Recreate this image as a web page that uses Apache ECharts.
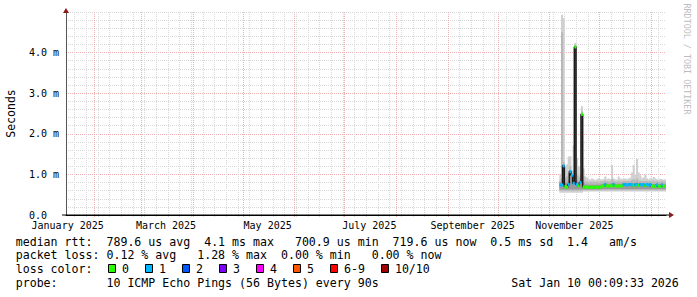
<!DOCTYPE html>
<html><head><meta charset="utf-8">
<script src="https://cdn.jsdelivr.net/npm/echarts@6/dist/echarts.min.js"></script>
<style>html,body{margin:0;padding:0;background:#fff}#c{width:697px;height:297px}</style>
</head><body><div id="c"></div>
<script>
const DAY = 86400000;
const rangeStart = Date.UTC(2025, 0, 15, 0, 9, 33);
const rangeEnd = Date.UTC(2026, 0, 10, 0, 9, 33);
const firstDataDay = Date.UTC(2025, 10, 7);

// x axis labels (centred mid-month, like rrdtool)
const monthLabelDates = [Date.UTC(2025,0,16), Date.UTC(2025,2,16), Date.UTC(2025,4,16), Date.UTC(2025,6,16), Date.UTC(2025,8,16), Date.UTC(2025,10,16)];
const monthLabelTexts = ['January 2025', 'March 2025', 'May 2025', 'July 2025', 'September 2025', 'November 2025'];
// y axis tick labels (ms)
const yTickValues = [0, 1, 2, 3, 4];
const yTickLabels = ['0.0', '1.0 m', '2.0 m', '3.0 m', '4.0 m'];
const yMax = 5;

// daily values, Nov 7 2025 .. Jan 9 2026 (ms)
const medianMs = [0.74,0.74,1.21,0.70,0.68,0.75,1.07,0.98,0.78,4.14,0.75,0.72,0.80,2.48,
  0.69,0.68,0.69,0.68,0.69,0.68,0.69,0.68,0.69,0.68,0.69,0.71,0.72,0.75,0.72,0.71,0.72,0.72,
  0.75,0.72,0.71,0.72,0.71,0.72,0.75,0.75,0.74,0.75,0.75,0.74,0.72,0.75,0.75,0.73,0.75,0.74,
  0.75,0.72,0.75,0.74,0.75,0.71,0.71,0.70,0.74,0.71,0.70,0.74,0.71,0.71];
const lossCount = [1,1,1,0,0,1,1,1,1,0,1,0,1,0,
  0,0,0,0,0,0,0,0,0,0,0,0,0,1,0,0,0,0,
  1,0,0,0,0,0,1,1,1,1,1,1,0,1,1,0,1,1,
  1,0,1,1,1,0,0,0,1,0,0,1,0,0];
const smokeMin = [0.55,0.55,0.55,0.55,0.55,0.55,0.55,0.55,0.55,0.55,0.55,0.55,0.55,0.55,
  0.58,0.58,0.58,0.58,0.58,0.58,0.58,0.58,0.58,0.58,0.58,0.58,0.58,0.58,0.58,0.58,0.58,0.58,
  0.58,0.58,0.58,0.58,0.58,0.58,0.58,0.58,0.58,0.58,0.58,0.58,0.58,0.58,0.58,0.58,0.58,0.58,
  0.58,0.58,0.58,0.58,0.58,0.58,0.58,0.58,0.58,0.58,0.58,0.58,0.58,0.58];
const smokeMax = [1.00,4.93,4.85,1.20,1.25,1.44,1.45,1.10,1.72,4.24,1.40,1.20,1.00,2.68,
  1.15,0.95,0.92,0.88,0.87,0.90,0.88,0.86,0.88,0.90,0.88,0.87,0.89,0.95,0.88,0.90,0.88,1.23,
  0.90,0.88,0.87,0.95,0.90,0.88,0.89,0.90,0.88,0.90,0.92,1.05,1.23,1.00,1.38,1.05,0.98,0.90,
  0.93,1.00,0.90,0.88,0.90,0.88,0.94,0.90,0.88,0.87,0.89,0.88,0.87,0.88];
const midLo = [0.60,0.60,0.60,0.60,0.60,0.60,0.60,0.60,0.60,0.60,0.60,0.60,0.60,0.60,
  0.61,0.61,0.61,0.61,0.61,0.61,0.61,0.61,0.61,0.61,0.61,0.61,0.61,0.61,0.61,0.61,0.61,0.61,
  0.61,0.61,0.61,0.61,0.61,0.61,0.61,0.61,0.61,0.61,0.61,0.61,0.61,0.61,0.61,0.61,0.61,0.61,
  0.61,0.61,0.61,0.61,0.61,0.61,0.61,0.61,0.61,0.61,0.61,0.61,0.61,0.61];
const midHi = [0.85,4.50,1.30,0.90,0.95,1.00,1.20,1.00,1.10,4.18,1.00,0.95,0.90,2.55,
  0.95,0.82,0.82,0.81,0.82,0.81,0.82,0.81,0.82,0.81,0.82,0.82,0.83,0.85,0.82,0.82,0.82,0.88,
  0.84,0.82,0.82,0.84,0.82,0.82,0.84,0.84,0.83,0.84,0.84,0.86,0.88,0.85,0.90,0.85,0.84,0.83,
  0.84,0.84,0.84,0.83,0.84,0.82,0.84,0.82,0.83,0.82,0.82,0.83,0.82,0.82];
const innerLo = [0.63,0.63,0.63,0.63,0.63,0.63,0.63,0.63,0.63,0.63,0.63,0.63,0.63,0.63,
  0.63,0.63,0.63,0.63,0.63,0.63,0.63,0.63,0.63,0.63,0.63,0.64,0.64,0.64,0.64,0.64,0.64,0.64,
  0.64,0.64,0.64,0.64,0.64,0.64,0.64,0.64,0.64,0.64,0.64,0.64,0.64,0.64,0.64,0.64,0.64,0.64,
  0.64,0.64,0.64,0.64,0.64,0.64,0.64,0.64,0.64,0.64,0.64,0.64,0.64,0.64];
const innerHi = [0.80,0.90,1.21,0.80,0.80,0.85,1.07,0.98,0.85,4.14,0.85,0.80,0.85,2.48,
  0.80,0.75,0.75,0.74,0.75,0.74,0.75,0.74,0.75,0.74,0.75,0.76,0.77,0.79,0.77,0.76,0.77,0.78,
  0.79,0.77,0.76,0.77,0.76,0.77,0.79,0.79,0.78,0.79,0.79,0.79,0.78,0.79,0.80,0.78,0.79,0.78,
  0.79,0.77,0.79,0.78,0.79,0.76,0.76,0.75,0.78,0.76,0.75,0.78,0.76,0.76];

const lossLabels = ['0', '1', '2', '3', '4', '5', '6-9', '10/10'];
const lossColors = ['#26ff00', '#00b8ff', '#0059ff', '#7e00ff', '#ff00ff', '#ff5500', '#ff0000', '#a00000'];

const legendRtt = [[0,'median rtt:'],[13,'789.6 us avg'],[27,'4.1 ms max'],[40,'700.9 us min'],[54,'719.6 us now'],[68,'0.5 ms sd'],[79,'1.4'],[85,'am/s']];
const legendLoss = [[0,'packet loss:'],[13,'0.12 % avg'],[26,'1.28 % max'],[38,'0.00 % min'],[51,'0.00 % now']];
const legendProbe = [[0,'probe:'],[13,'10 ICMP Echo Pings (56 Bytes) every 90s'],[71,'Sat Jan 10 00:09:33 2026']];

const MONO = "'DejaVu Sans Mono', monospace";
const GRID_MINOR = '#d8d8d8';
const GRID_MAJOR = '#eeb0b0';

function lossIndex(n) { return n <= 5 ? n : (n < 10 ? 6 : 7); }
function dayStart(i) { return firstDataDay + i * DAY; }

// grid helper dates (calendar, not data)
const monthStarts = [];
for (let m = 1; m <= 12; m++) monthStarts.push(Date.UTC(2025, m, 1));
const weekStarts = [];
for (let t = Date.UTC(2025, 0, 20); t < rangeEnd; t += 7 * DAY) weekStarts.push(t);

function vLines(dates, color, below, z) {
  return {
    type: 'custom', z: z, clip: false, silent: true,
    data: dates.map(t => [t, 0]),
    renderItem(params, api) {
      const top = api.coord([api.value(0), yMax]);
      const bot = api.coord([api.value(0), 0]);
      const x = Math.round(top[0]) + 0.5;
      return { type: 'line', shape: { x1: x, y1: top[1], x2: x, y2: bot[1] + below },
        style: { stroke: color, lineWidth: 1, lineDash: [1, 1] } };
    }
  };
}
function band(lo, hi, color, z) {
  return {
    type: 'custom', z: z, clip: true, silent: true,
    data: lo.map((v, i) => [dayStart(i), dayStart(i + 1), v, hi[i]]),
    renderItem(params, api) {
      const a = api.coord([api.value(0), api.value(3)]);
      const b = api.coord([api.value(1), api.value(2)]);
      return { type: 'rect', shape: { x: a[0], y: a[1], width: b[0] - a[0] + 0.4, height: b[1] - a[1] },
        style: { fill: color } };
    }
  };
}

const chart = echarts.init(document.getElementById('c'), null, { renderer: 'svg', width: 697, height: 297 });
chart.setOption({
  animation: false,
  backgroundColor: '#ffffff',
  grid: { left: 66, right: 31, top: 12, bottom: 82 },
  xAxis: {
    type: 'value', min: rangeStart, max: rangeEnd,
    axisLine: { show: true, onZero: false, lineStyle: { color: '#000', width: 1 } },
    axisTick: { show: false },
    splitLine: { show: false },
    axisLabel: {
      customValues: monthLabelDates,
      formatter: v => {
        let best = 0;
        monthLabelDates.forEach((d, i) => { if (Math.abs(d - v) < Math.abs(monthLabelDates[best] - v)) best = i; });
        return monthLabelTexts[best];
      },
      fontFamily: MONO, fontSize: 10, lineHeight: 10, color: '#000', margin: 5
    }
  },
  yAxis: {
    type: 'value', min: 0, max: yMax, interval: 1,
    axisLine: { show: true, lineStyle: { color: '#555' } },
    axisTick: { show: false },
    axisLabel: {
      align: 'left', margin: 37, fontFamily: MONO, fontSize: 10, lineHeight: 10, color: '#000',
      formatter: v => { const k = yTickValues.indexOf(v); return k >= 0 ? yTickLabels[k] : ''; }
    },
    splitLine: { show: true, lineStyle: { color: [GRID_MAJOR, GRID_MAJOR, GRID_MAJOR, GRID_MAJOR, GRID_MAJOR, GRID_MINOR], type: [1, 1] } },
    minorTick: { show: false, splitNumber: 5 },
    minorSplitLine: { show: true, lineStyle: { color: GRID_MINOR, type: [1, 1] } }
  },
  series: [
    vLines(weekStarts, GRID_MINOR, 2, 1),
    vLines(monthStarts, GRID_MAJOR, 3, 1),
    band(smokeMin, smokeMax, '#d0d0d0', 2),
    band(midLo, midHi, '#b8b8b8', 2),
    band(innerLo, innerHi, '#999999', 2),
    {
      type: 'line', step: 'middle', z: 3, silent: true, symbol: 'none',
      data: medianMs.map((v, i) => [dayStart(i) + DAY / 2, v]),
      lineStyle: { color: '#1a1a1a', width: 1.5 }
    },
    {
      type: 'custom', z: 4, clip: true, silent: true,
      data: medianMs.map((v, i) => [dayStart(i), dayStart(i + 1), v, lossCount[i]]),
      renderItem(params, api) {
        const a = api.coord([api.value(0), api.value(2)]);
        const b = api.coord([api.value(1), api.value(2)]);
        return { type: 'rect', shape: { x: a[0], y: a[1] - 1.5, width: b[0] - a[0] + 0.4, height: 3 },
          style: { fill: lossColors[lossIndex(api.value(3))] } };
      }
    }
  ]
});

// decorations & legend
const o = chart.convertToPixel({ gridIndex: 0 }, [rangeStart, 0]);
const e = chart.convertToPixel({ gridIndex: 0 }, [rangeEnd, yMax]);
const g = [];
const ARROW = '#8b1a1a';
g.push({ type: 'line', shape: { x1: o[0] - 4, y1: o[1], x2: e[0] + 4, y2: o[1] }, style: { stroke: '#000', lineWidth: 1 }, z: 10 });
g.push({ type: 'polygon', shape: { points: [[e[0] + 3, o[1] - 3], [e[0] + 8, o[1]], [e[0] + 3, o[1] + 3]] }, style: { fill: ARROW }, z: 10 });
g.push({ type: 'polygon', shape: { points: [[o[0] - 3, e[1] + 1], [o[0], e[1] - 4], [o[0] + 3, e[1] + 1]] }, style: { fill: ARROW }, z: 10 });
g.push({ type: 'text', x: 10.8, y: (o[1] + e[1]) / 2, rotation: Math.PI / 2,
  style: { text: 'Seconds', fill: '#000', fontFamily: MONO, fontSize: 11.5, align: 'center', verticalAlign: 'middle' } });
g.push({ type: 'text', x: 686.5, y: 59, rotation: -Math.PI / 2,
  style: { text: 'RRDTOOL / TOBI OETIKER', fill: '#bdbdbd', fontFamily: MONO, fontSize: 8.4, align: 'center', verticalAlign: 'middle' } });

const COL0 = 15.7, CW = 6.98, FS = 11.6;
const rowY = [241.7, 255.4, 269.1, 283];
function addRow(segs, y) {
  segs.forEach(([c, t]) => g.push({ type: 'text', x: COL0 + c * CW, y: y,
    style: { text: t, fill: '#000', fontFamily: MONO, fontSize: FS, align: 'left', verticalAlign: 'middle' } }));
}
addRow(legendRtt, rowY[0]);
addRow(legendLoss, rowY[1]);
addRow([[0, 'loss color:']], rowY[2]);
let bx = COL0 + 13 * CW + 1.5;
lossLabels.forEach((lab, k) => {
  g.push({ type: 'rect', shape: { x: Math.round(bx) + 0.5, y: 264.5, width: 7, height: 8 },
    style: { fill: lossColors[k], stroke: '#000', lineWidth: 1 } });
  g.push({ type: 'text', x: bx + 14, y: rowY[2],
    style: { text: lab, fill: '#000', fontFamily: MONO, fontSize: FS, align: 'left', verticalAlign: 'middle' } });
  bx += 37 + CW * (lab.length - 1);
});
addRow(legendProbe, rowY[3]);
chart.setOption({ graphic: g });
</script>
</body></html>
